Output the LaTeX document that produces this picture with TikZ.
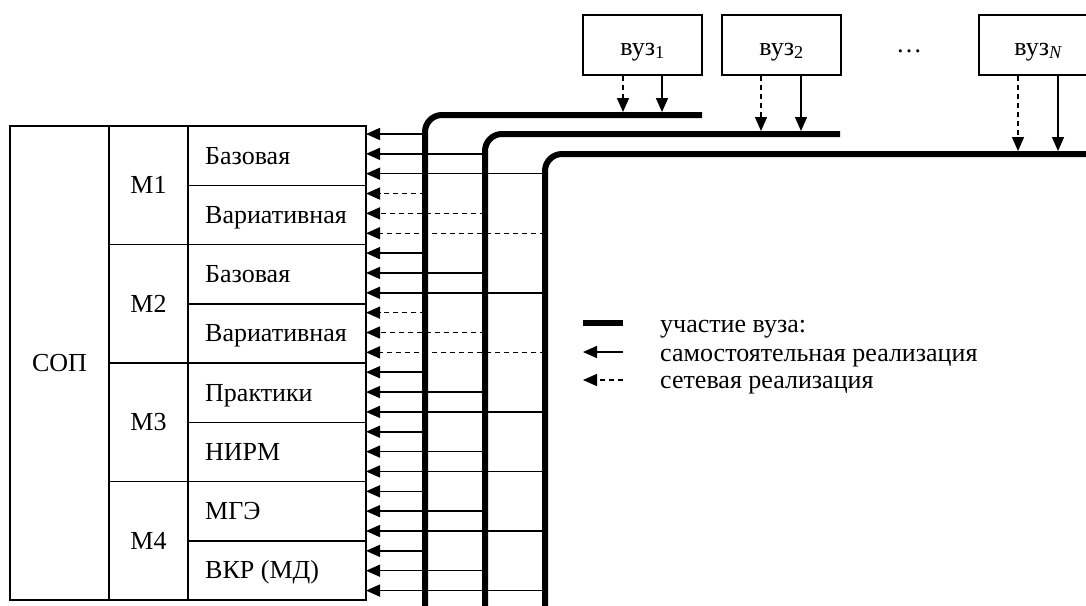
\documentclass[tikz,border=0pt]{standalone}
\usepackage{fontspec}
\setmainfont{Liberation Serif}
\usetikzlibrary{arrows.meta}
\begin{document}
\begin{tikzpicture}[x=1pt,y=-1pt,
  lbl/.style={inner sep=0pt, font=\fontsize{26}{30}\selectfont},
  frame/.style={draw, line width=1.5pt, inner sep=0pt},
  rowcell/.style={frame, minimum width=178pt, minimum height=59.25pt},
  mcell/.style={frame, minimum width=79pt, minimum height=118.5pt, font=\fontsize{26}{30}\selectfont},
  sopcell/.style={frame, minimum width=99pt, minimum height=474pt, font=\fontsize{26}{30}\selectfont},
  vuzbox/.style={frame, minimum width=119pt, minimum height=60pt},
  busline/.style={line width=6pt, rounded corners=17pt},
  solarr/.style={line width=1.5pt, -{Triangle[length=14pt,width=12pt]}},
  dasharr/.style={solarr, dash pattern=on 5pt off 4pt}]
\useasboundingbox (0,0) rectangle (1086,605);

% table
\node[sopcell] (sop) at (59.5,363) {СОП};
\foreach \m [count=\j from 0] in {М1,М2,М3,М4} {
  \pgfmathsetmacro\yc{126+118.5*\j+59.25}
  \node[mcell] (m\j) at (148.5,\yc) {\m};
}
\foreach \txt [count=\i from 0] in {Базовая,Вариативная,Базовая,Вариативная,Практики,НИРМ,МГЭ,{ВКР (МД)}} {
  \pgfmathsetmacro\yc{126+59.25*\i+29.625}
  \node[rowcell] (r\i) at (277,\yc) {};
  \node[lbl, anchor=base west] (t\i) at (205,\yc+8.5) {\txt};
}

% bus lines
\coordinate (L1a) at (425,612); \coordinate (L1b) at (425,115); \coordinate (L1c) at (702,115);
\coordinate (L2a) at (485,612); \coordinate (L2b) at (485,134); \coordinate (L2c) at (840,134);
\coordinate (L3a) at (545,612); \coordinate (L3b) at (545,154); \coordinate (L3c) at (1095,154);
\draw[busline] (L1a) -- (L1b) -- (L1c);
\draw[busline] (L2a) -- (L2b) -- (L2c);
\draw[busline] (L3a) -- (L3b) -- (L3c);

% arrows to table
\foreach \i in {0,...,23} {
  \pgfmathsetmacro\ya{134+19.85*\i}
  \pgfmathtruncatemacro\k{mod(\i,3)}
  \pgfmathtruncatemacro\r{div(\i,3)}
  \coordinate (s\i) at (425+60*\k,\ya);
  \coordinate (e\i) at (366,\ya);
  \ifnum\r=1 \def\sty{dasharr}\else\ifnum\r=3 \def\sty{dasharr}\else\def\sty{solarr}\fi\fi
  \draw[\sty] (s\i) -- (e\i);
}

% vuz boxes
\node[vuzbox] (v1) at (642.5,45) {};
\node[vuzbox] (v2) at (781.5,45) {};
\node[vuzbox] (vN) at (1038.5,45) {};
\node[lbl, anchor=base] (v1t) at (642.5,55) {вуз\textsubscript{1}};
\node[lbl, anchor=base] (v2t) at (781.5,55) {вуз\textsubscript{2}};
\node[lbl, anchor=base] (vNt) at (1038.5,55) {вуз\textsubscript{\textit{N}}};
\node[lbl, anchor=base] (dots) at (909,52) {…};

\coordinate (d1) at (623,112); \coordinate (c1) at (662,112);
\coordinate (d2) at (761,131); \coordinate (c2) at (801,131);
\coordinate (dN) at (1018,151); \coordinate (cN) at (1058,151);
\draw[dasharr] (d1 |- v1.south) -- (d1);
\draw[solarr] (c1 |- v1.south) -- (c1);
\draw[dasharr] (d2 |- v2.south) -- (d2);
\draw[solarr] (c2 |- v2.south) -- (c2);
\draw[dasharr] (dN |- vN.south) -- (dN);
\draw[solarr] (cN |- vN.south) -- (cN);

% legend
\coordinate (g1a) at (583,323); \coordinate (g1b) at (623,323);
\coordinate (g2a) at (583,352); \coordinate (g2b) at (623,352);
\coordinate (g3a) at (583,380); \coordinate (g3b) at (623,380);
\draw[line width=6pt] (g1a) -- (g1b);
\draw[solarr] (g2b) -- (g2a);
\draw[dasharr] (g3b) -- (g3a);
\node[lbl, anchor=base west] (lg1) at (660,332.5) {участие вуза:};
\node[lbl, anchor=base west] (lg2) at (660,361) {самостоятельная реализация};
\node[lbl, anchor=base west] (lg3) at (660,388.5) {сетевая реализация};
\end{tikzpicture}
\end{document}
